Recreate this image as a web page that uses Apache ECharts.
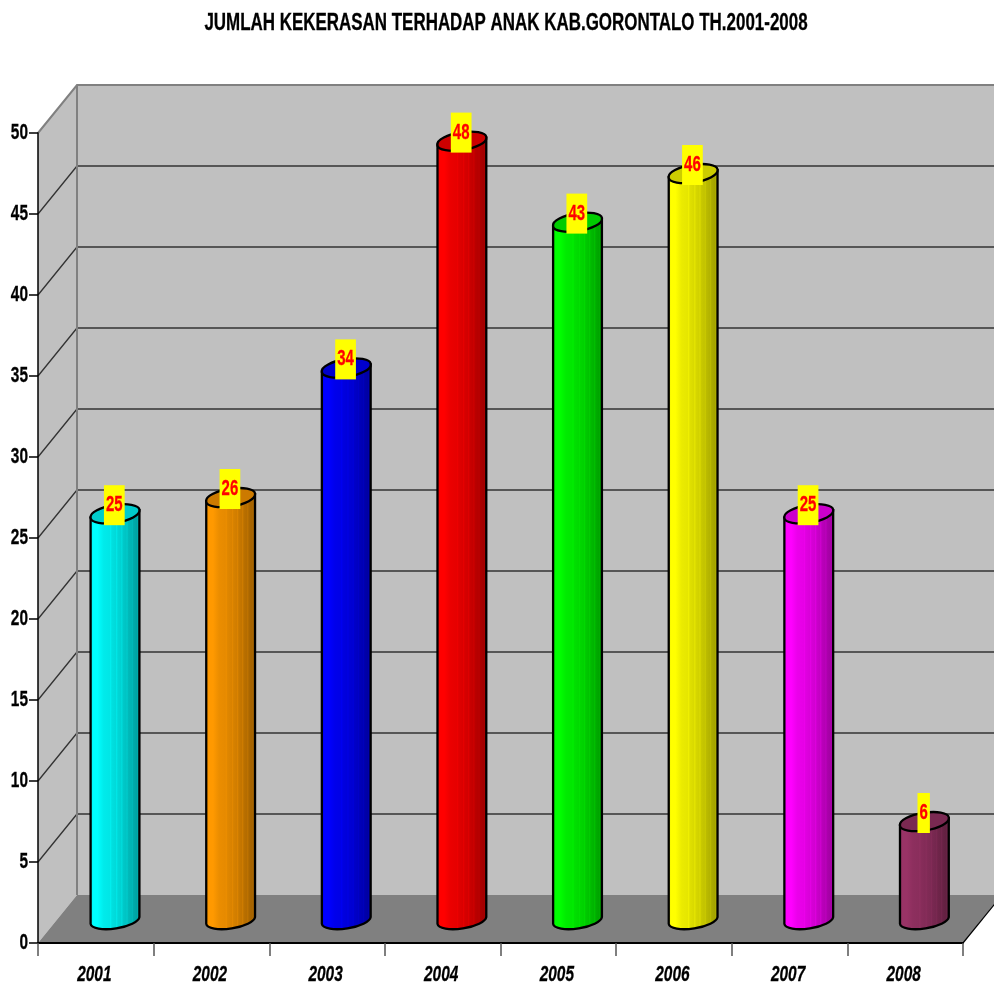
<!DOCTYPE html>
<html><head><meta charset="utf-8">
<style>html,body{margin:0;padding:0;background:#fff}#c{width:994px;height:984px}</style>
<script src="https://cdn.jsdelivr.net/npm/echarts@6/dist/echarts.min.js"></script>
</head><body><div id="c"></div>
<script>
const years = ['2001','2002','2003','2004','2005','2006','2007','2008'];
const counts = [25,26,34,48,43,46,25,6];
const labelsShown = [25,26,34,48,43,46,25,6];
const yTickValues = [0,5,10,15,20,25,30,35,40,45,50];
const yGridValues = [5,10,15,20,25,30,35,40,45];
const barColors = ['#00ffff','#ff9900','#0000ff','#ff0000','#00ff00','#ffff00','#ff00ff','#993366'];
const titleText = 'JUMLAH KEKERASAN TERHADAP ANAK KAB.GORONTALO TH.2001-2008';
const fontN = '"Liberation Sans",Arial,sans-serif';
const DX = 39, DY = 48;          // 3D depth of the chart box
const shades = [[0,.92],[.08,1],[.16,1],[.28,.92],[.4,.9],[.41,.94],[.44,.88],[.52,.85],[.53,.9],[.56,.84],[.62,.82],[.63,.87],[.66,.79],[.72,.76],[.73,.81],[.76,.73],[.82,.7],[.83,.75],[.86,.67],[.92,.64],[.93,.68],[1,.58]];
function mix(hex,f){const n=parseInt(hex.slice(1),16);const c=[n>>16,(n>>8)&255,n&255].map(v=>Math.round(v*f));return 'rgb('+c.join(',')+')';}
function bodyFill(hex){return new echarts.graphic.LinearGradient(0,0,1,0,shades.map(s=>({offset:s[0],color:mix(hex,s[1])})));}

function renderBox(params,api){
  const g=params.coordSys, x0=g.x, x1=g.x+g.width, yb=g.y+g.height, yt=g.y;
  const wall='#c0c0c0', floor='#808080', edge='#808080', line='#333333';
  const ch=[
    {type:'polygon',shape:{points:[[x0+DX,yt-DY],[x1+DX,yt-DY],[x1+DX,yb-DY],[x0+DX,yb-DY]]},style:{fill:wall}},
    {type:'polygon',shape:{points:[[x0,yt],[x0+DX,yt-DY],[x0+DX,yb-DY],[x0,yb]]},style:{fill:wall}},
    {type:'polygon',shape:{points:[[x0,yb],[x0+DX,yb-DY],[x1+DX,yb-DY],[x1,yb]]},style:{fill:floor}}
  ];
  yGridValues.forEach(v=>{
    const y=api.coord([0,v])[1];
    ch.push({type:'polyline',shape:{points:[[x0,y],[x0+DX,y-DY],[x1+DX,y-DY]]},style:{fill:null,stroke:line,lineWidth:1.3}});
  });
  ch.push({type:'polyline',shape:{points:[[x0,yt],[x0+DX,yt-DY],[x1+DX,yt-DY]]},style:{fill:null,stroke:edge,lineWidth:2}});
  ch.push({type:'line',shape:{x1:x0+DX,y1:yt-DY,x2:x0+DX,y2:yb-DY},style:{stroke:edge,lineWidth:2}});
  ch.push({type:'line',shape:{x1:x1,y1:yb,x2:x1+DX,y2:yb-DY},style:{stroke:'#000',lineWidth:1.2}});
  // condensed tick labels and title (no narrow font installed, so squeeze Liberation Sans)
  yTickValues.forEach(v=>{
    const y=api.coord([0,v])[1];
    ch.push({type:'text',x:x0-10,y:y,scaleX:.7,style:{text:String(v),fill:'#000',stroke:'#000',lineWidth:.3,font:'bold 22px '+fontN,align:'right',verticalAlign:'middle'}});
  });
  years.forEach((t,i)=>{
    const c=api.coord([i,0]);
    ch.push({type:'text',x:c[0]-1.5,y:yb+32,scaleX:.7,style:{text:t,fill:'#000',stroke:'#000',lineWidth:.3,font:'italic bold 22px '+fontN,align:'center',verticalAlign:'middle'}});
  });
  ch.push({type:'text',x:506,y:23,scaleX:.706,style:{text:titleText,fill:'#000',stroke:'#000',lineWidth:.3,font:'bold 24px '+fontN,align:'center',verticalAlign:'middle'}});
  return {type:'group',children:ch};
}
function renderCyl(params,api){
  const i=api.value(0), v=api.value(1);
  const top=api.coord([i,v]), base=api.coord([i,0]);
  const cx=top[0]+DX/2-0.3, ty=top[1]-DY/2-0.2, by=base[1]-DY/2+1.5;
  const hw=24.4, s=3.4, rx=24.7, ry=8.4, tilt=-9;
  const body='M'+(cx-hw)+' '+(ty+s)+' L'+(cx-hw)+' '+(by+s)+' A'+rx+' '+ry+' '+tilt+' 0 0 '+(cx+hw)+' '+(by-s)+' L'+(cx+hw)+' '+(ty-s)+' Z';
  const cap='M'+(cx-hw)+' '+(ty+s)+' A'+rx+' '+ry+' '+tilt+' 1 1 '+(cx+hw)+' '+(ty-s)+' A'+rx+' '+ry+' '+tilt+' 1 1 '+(cx-hw)+' '+(ty+s)+' Z';
  const color=barColors[i];
  return {type:'group',children:[
    {type:'path',shape:{pathData:body},style:{fill:bodyFill(color),stroke:'#000',lineWidth:2.3}},
    {type:'path',shape:{pathData:cap},style:{fill:mix(color,.8),stroke:'#000',lineWidth:2.3}},
    {type:'text',x:cx-0.7,y:ty-8.6,z2:10,scaleX:.68,style:{text:String(labelsShown[i]),fill:'#ff0000',stroke:'#ff0000',lineWidth:.3,font:'bold 22px '+fontN,align:'center',verticalAlign:'middle',backgroundColor:'#ffff00',padding:[9,3,9,3]}}
  ]};
}
const chart=echarts.init(document.getElementById('c'),null,{renderer:'canvas'});
chart.setOption({
  animation:false,
  backgroundColor:'#ffffff',
  grid:{left:38,right:31,top:133,bottom:41},
  xAxis:{type:'category',data:years,z:5,
    axisLine:{lineStyle:{color:'#000',width:2}},
    axisTick:{show:true,alignWithLabel:false,length:13,lineStyle:{color:'#555',width:1.5}},
    axisLabel:{show:false},
    splitLine:{show:false}},
  yAxis:{type:'value',min:0,max:50,interval:5,z:5,
    axisLine:{show:true,lineStyle:{color:'#000',width:1.5}},
    axisTick:{show:true,length:9,lineStyle:{color:'#000',width:1.5}},
    axisLabel:{show:false},
    splitLine:{show:false}},
  series:[
    {type:'custom',name:'box',coordinateSystem:'cartesian2d',clip:false,z:1,silent:true,renderItem:renderBox,data:[[0,0]],encode:{x:0,y:1}},
    {type:'custom',name:'Kekerasan',coordinateSystem:'cartesian2d',clip:false,z:3,renderItem:renderCyl,data:counts.map((v,i)=>[i,v]),encode:{x:0,y:1}}
  ]
});
</script></body></html>
